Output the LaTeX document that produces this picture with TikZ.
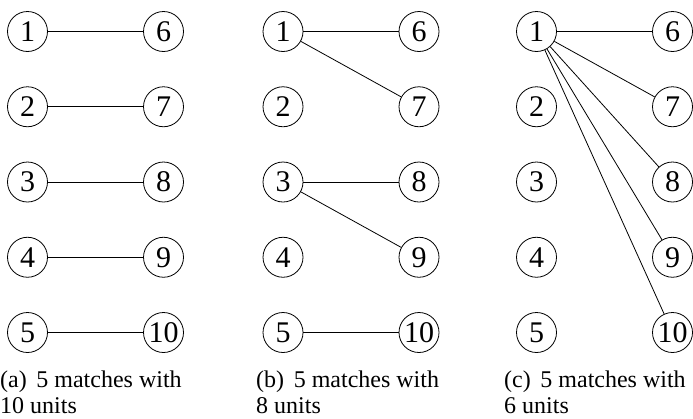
\documentclass[tikz,border=0pt]{standalone}
\usepackage{fontspec}
\setmainfont{Liberation Serif}
\begin{document}
\begin{tikzpicture}[x=1pt,y=-1pt,
  vtx/.style={draw, circle, minimum size=40pt, inner sep=0pt, line width=0.8pt, font=\fontsize{30}{30}\selectfont},
  edge/.style={line width=0.8pt},
  captext/.style={anchor=base west, inner sep=0pt, font=\fontsize{24}{27}\selectfont}]
\useasboundingbox (0,0) rectangle (693,418);
\foreach \pn/\px in {a/27.5, b/283, c/536.5} {
  \foreach \i in {1,...,5} {
    \pgfmathsetmacro\yy{31.5+75.25*(\i-1)}
    \pgfmathtruncatemacro\j{\i+5}
    \node[vtx] (\pn\i) at (\px, \yy) {\i};
    \node[vtx] (\pn\j) at (\px+136, \yy) {\j};
  }
}
% panel (a)
\draw[edge] (a1) -- (a6);
\draw[edge] (a2) -- (a7);
\draw[edge] (a3) -- (a8);
\draw[edge] (a4) -- (a9);
\draw[edge] (a5) -- (a10);
% panel (b)
\draw[edge] (b1) -- (b6);
\draw[edge] (b1) -- (b7);
\draw[edge] (b3) -- (b8);
\draw[edge] (b3) -- (b9);
\draw[edge] (b5) -- (b10);
% panel (c)
\draw[edge] (c1) -- (c6);
\draw[edge] (c1) -- (c7);
\draw[edge] (c1) -- (c8);
\draw[edge] (c1) -- (c9);
\draw[edge] (c1) -- (c10);
% captions
\node[captext] (capa1) at (0,387) {(a)\hspace{0.4em}5 matches with};
\node[captext] (capa2) at (0,413) {10 units};
\node[captext] (capb1) at (256,387) {(b)\hspace{0.4em}5 matches with};
\node[captext] (capb2) at (256,413) {8 units};
\node[captext] (capc1) at (504,387) {(c)\hspace{0.4em}5 matches with};
\node[captext] (capc2) at (504,413) {6 units};
\end{tikzpicture}
\end{document}
